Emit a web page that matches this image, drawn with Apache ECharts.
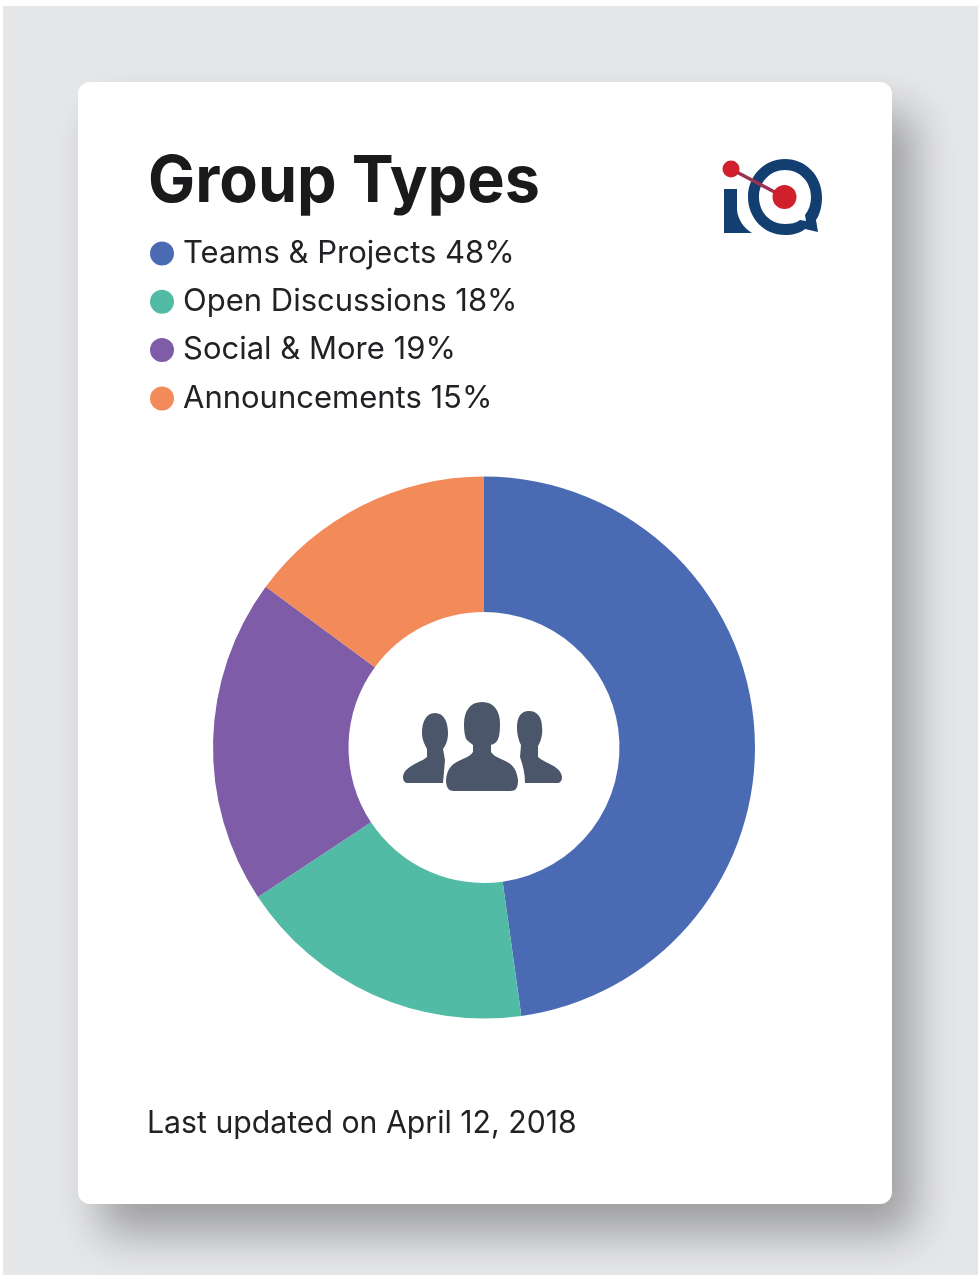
<!DOCTYPE html>
<html><head><meta charset="utf-8">
<style>html,body{margin:0;padding:0;background:#fff;overflow:hidden}#c{width:980px;height:1279px;filter:blur(0.5px)}</style>
<script src="https://cdn.jsdelivr.net/npm/echarts@6/dist/echarts.min.js"></script>
</head><body><div id="c"></div>
<script>
const titleText = 'Group Types';
const footerText = 'Last updated on April 12, 2018';
const categories = ['Teams & Projects','Open Discussions','Social & More','Announcements'];
// percentages as printed in the legend
const printedShares = [48,18,19,15];
const sliceValues = [47.8,17.9,19.4,14.9];
const colors = ['#4a6bb3','#52bba6','#7f5ca8','#f38a5a'];
const fontFamily = 'Inter, "Liberation Sans", sans-serif';
const ink = '#4b566a';
const navy = '#123f6f';
const shareByName = Object.fromEntries(categories.map((c,i)=>[c,printedShares[i]]));
const iconPaths = {
  personL:'M435 713C426 713 422 722 422 733C422 740 425 745 427 749L427 757C420 763 404 766 403 777C403 781 405 783 408 783L443 783L445 760L443 749C446 745 448 740 448 733C448 722 444 713 435 713Z',
  personC:'M482 702C470 702 464 711 464 724C464 732 465 739 468 741L473 745L473 752C466 762 448 758 446 780C446 788 449 791 454 791L510 791C516 791 518 788 518 780C516 758 498 762 491 752L491 745C497 743 500 740 500 724C500 711 494 702 482 702Z',
  personR:'M529 711C521 711 517 717 517 727C517 735 519 741 521 745L520 757C523 765 525 774 525 783L557 783C560 783 562 781 562 777C561 766 546 764 538 757L538 746C541 741 543 734 542 727C542 717 537 711 529 711Z',
  logoI:'M724 189L737 189L737 210C738 220 744 228 752 233L724 233Z',
  logoQ:'M785 159C764 159 748 176 748 197C748 218 764 235 785 235C793 235 800 233 805 229L818 232L816 220C820 214 822 206 822 197C822 176 806 159 785 159ZM785 170C800 170 811 182 811 197C811 204 809 210 805 215L806 221L800 220C796 223 791 224 785 224C770 224 759 212 759 197C759 182 770 170 785 170Z'
};
Object.keys(iconPaths).forEach(k=>echarts.graphic.registerShape(k,echarts.graphic.extendPath(iconPaths[k],{})));
const chart = echarts.init(document.getElementById('c'),null,{renderer:'canvas'});
chart.setOption({
  animation:false,
  backgroundColor:'#fff',
  color:colors,
  legend:{orient:'vertical',left:150,top:238,icon:'circle',itemWidth:24,itemHeight:24,itemGap:17.3,padding:0,
    selectedMode:false,data:categories,
    formatter:n=>n+' '+shareByName[n]+'%',
    textStyle:{fontFamily,fontSize:31,color:'#222226',padding:[0,0,0,4]}},
  graphic:{elements:[
    {type:'rect',z:-10,silent:true,shape:{x:3,y:6,width:975,height:1269},style:{fill:'#e6e7e9'}},
    {type:'rect',z:-9,silent:true,shape:{x:78,y:82,width:814,height:1122,r:12},
      style:{fill:'#fff',shadowColor:'rgba(0,0,0,0.32)',shadowBlur:45,shadowOffsetX:22,shadowOffsetY:30}},
    {type:'text',z:5,silent:true,x:148,y:150,scaleX:0.968,style:{text:titleText,verticalAlign:'top',fontFamily,fontSize:65,fontWeight:700,fill:'#1a1a1c'}},
    {type:'text',z:5,silent:true,x:147,y:1124,scaleX:0.975,style:{text:footerText,verticalAlign:'middle',fontFamily,fontSize:31,fill:'#222226'}},
    {type:'personL',z:5,silent:true,style:{fill:ink}},
    {type:'personC',z:5,silent:true,style:{fill:ink}},
    {type:'personR',z:5,silent:true,style:{fill:ink}},
    {type:'logoI',z:5,silent:true,style:{fill:navy}},
    {type:'logoQ',z:5,silent:true,style:{fill:navy}},
    {type:'line',z:6,silent:true,shape:{x1:731,y1:169,x2:784,y2:197},style:{stroke:'#9c3350',lineWidth:3.5}},
    {type:'circle',z:7,silent:true,shape:{cx:731,cy:169,r:8.5},style:{fill:'#cf202c'}},
    {type:'circle',z:7,silent:true,shape:{cx:784.5,cy:197,r:12},style:{fill:'#cf202c'}}
  ]},
  series:[{type:'pie',center:[484,747.5],radius:[135.5,271],startAngle:90,clockwise:true,
    label:{show:false},labelLine:{show:false},silent:true,
    data:categories.map((c,i)=>({name:c,value:sliceValues[i]}))}]
});
</script></body></html>
